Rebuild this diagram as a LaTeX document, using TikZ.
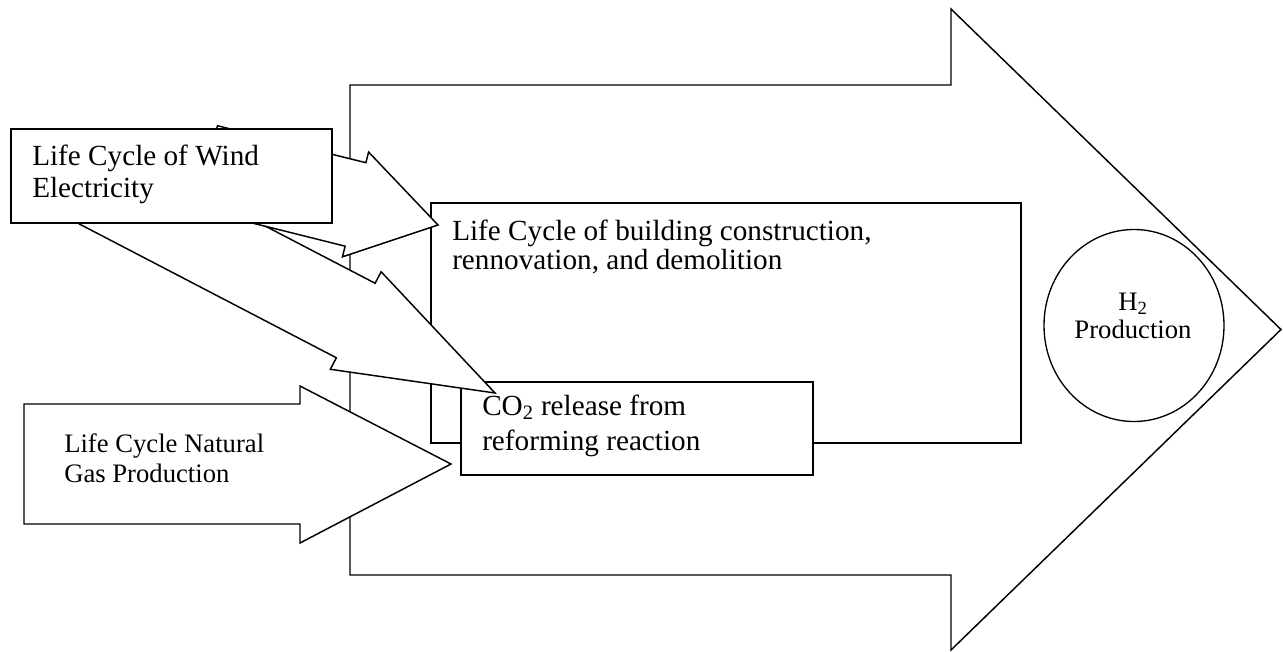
\documentclass[tikz,border=0pt]{standalone}
\usepackage{fontspec}
\setmainfont{Liberation Serif}
\usetikzlibrary{calc}
\tikzset{blockarrow/.style={draw,fill=white,line width=1.1pt,line join=miter},
 boxline/.style={draw,fill=white,line width=1.3pt},
 lbl/.style={inner sep=0pt,align=left,anchor=base west}}

\begin{document}
\begin{tikzpicture}[x=0.75pt,y=-0.75pt]
\useasboundingbox (0,0) rectangle (1283,651);
\coordinate (tipH) at (1281,329.5);
\coordinate (tipN) at (451,464);
\coordinate (tipA) at (438,225);
\coordinate (tipB) at (495,393);
\coordinate (h2c) at (1134,325.5);
\begin{scope}[shift={(tipH)}]
\draw[blockarrow] (0,0)--(-330,-320.5)--(-330,-244.5)--(-931,-244.5)--(-931,245.5)--(-330,245.5)--(-330,320.5)--cycle;
\end{scope}
\draw[boxline] (431,203) rectangle (1021,443);
\draw[boxline] (461,382) rectangle (813,475);
\begin{scope}[shift={(tipN)}]
\draw[blockarrow] (0,0)--(-151,-78)--(-151,-60)--(-427,-60)--(-427,60)--(-151,60)--(-151,79)--cycle;
\end{scope}
\begin{scope}[shift={(tipB)},rotate=-27.5]
\draw[blockarrow] (0,0)--(-157,-55)--(-157,-42)--(-457,-42)--(-457,42)--(-157,42)--(-157,55)--cycle;
\end{scope}
\begin{scope}[shift={(tipA)},rotate=-14]
\draw[blockarrow] (0,0)--(-85,-54)--(-85,-43)--(-238,-43)--(-238,43)--(-85,43)--(-85,54)--cycle;
\end{scope}
\draw[boxline] (11,129) rectangle (332,223);
\draw[line width=1pt] (h2c) ellipse [x radius=90,y radius=96];
\node[lbl,font=\fontsize{21.9}{24}\selectfont] (windtxt) at (32,197) {Life Cycle of Wind\\Electricity};
\node[lbl,font=\fontsize{21.9}{21.75}\selectfont] (bldtxt) at (452,269) {Life Cycle of building construction,\\rennovation, and demolition};
\node[lbl,font=\fontsize{21.9}{26.25}\selectfont] (co2txt) at (482,450) {CO\textsubscript{2} release from\\reforming reaction};
\node[lbl,font=\fontsize{20}{22.5}\selectfont] (gastxt) at (64,482) {Life Cycle Natural\\Gas Production};
\node[lbl,align=center,anchor=base,font=\fontsize{20}{21}\selectfont] (h2txt) at (1133,338) {H\textsubscript{2}\\Production};
\end{tikzpicture}
\end{document}
